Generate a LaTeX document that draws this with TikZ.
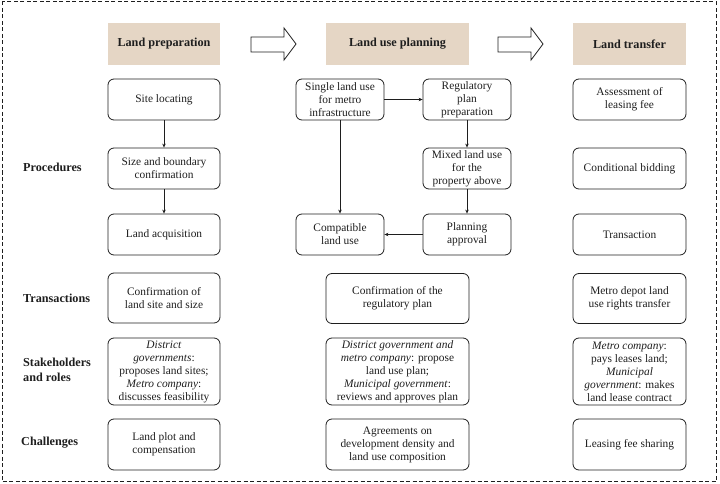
\documentclass[tikz,border=0pt]{standalone}
\usepackage{fontspec}
\setmainfont{Liberation Serif}
\usetikzlibrary{arrows.meta}
\definecolor{hdr}{HTML}{E5D6C5}
\definecolor{ink}{HTML}{1E1E1E}
\begin{document}
\begin{tikzpicture}[x=1pt,y=-1pt,
  every node/.style={font=\fontsize{11.4}{13}\selectfont, text=ink},
  box/.style={draw=ink, line width=0.8pt, rounded corners=6pt, align=center, inner sep=0pt},
  hbox/.style={fill=hdr, align=center, inner sep=0pt, font=\fontsize{12.2}{14}\selectfont\bfseries},
  lbl/.style={anchor=west, align=left, inner sep=0pt, font=\fontsize{12.2}{14.5}\selectfont\bfseries},
  arr/.style={draw=ink, line width=0.7pt, -{Stealth[length=4pt,width=3.5pt]}},
  blk/.style={draw=ink, line width=0.8pt, fill=white, line join=miter}]
\useasboundingbox (0,0) rectangle (720,484);
\draw[ink, line width=0.8pt, dash pattern=on 4pt off 2.5pt] (2,1.5) rectangle (716,481.5);

% headers
\node[hbox, minimum width=112pt, minimum height=42pt] (h1) at (164,44) {Land preparation};
\node[hbox, minimum width=143pt, minimum height=42pt] (h2) at (397.5,44) {Land use planning};
\node[hbox, minimum width=113pt, minimum height=42pt] (h3) at (629.5,44) {Land transfer};

% block arrows
\draw[blk] (251,37) -- (284,37) -- (284,28) -- (296,44) -- (284,60) -- (284,52) -- (251,52) -- cycle;
\draw[blk] (498,37) -- (531,37) -- (531,28) -- (543,44) -- (531,60) -- (531,52) -- (498,52) -- cycle;

% row labels
\node[lbl] (lp) at (23,167) {Procedures};
\node[lbl] (lt) at (23,298) {Transactions};
\node[lbl] (ls) at (23,370) {Stakeholders\\and roles};
\node[lbl] (lc) at (21,443) {Challenges};

% procedures - left
\node[box, minimum width=112pt, minimum height=41pt] (p1) at (164,99.5) {Site locating};
\node[box, minimum width=112pt, minimum height=41pt] (p2) at (164,168.5) {Size and boundary\\confirmation};
\node[box, minimum width=112pt, minimum height=41pt] (p3) at (164,234.5) {Land acquisition};

% procedures - middle
\node[box, minimum width=88pt, minimum height=41pt] (m1) at (340,99.5) {Single land use\\for metro\\infrastructure};
\node[box, minimum width=88pt, minimum height=41pt] (m2) at (467,99.5) {Regulatory\\plan\\preparation};
\node[box, minimum width=88pt, minimum height=41pt] (m3) at (467,168.5) {Mixed land use\\for the\\property above};
\node[box, minimum width=88pt, minimum height=41pt] (m4) at (467,234.5) {Planning\\approval};
\node[box, minimum width=88pt, minimum height=41pt] (m5) at (340,234.5) {Compatible\\land use};

% procedures - right
\node[box, minimum width=113pt, minimum height=41pt] (r1) at (629.5,99.5) {Assessment of\\leasing fee};
\node[box, minimum width=113pt, minimum height=41pt] (r2) at (629.5,168.5) {Conditional bidding};
\node[box, minimum width=113pt, minimum height=41pt] (r3) at (629.5,234.5) {Transaction};

% transactions
\node[box, minimum width=112pt, minimum height=50pt] (t1) at (164,298) {Confirmation of\\land site and size};
\node[box, minimum width=143pt, minimum height=50pt] (t2) at (397.5,298.5) {Confirmation of the\\regulatory plan};
\node[box, minimum width=113pt, minimum height=50pt] (t3) at (629.5,298.5) {Metro depot land\\use rights transfer};

% stakeholders
\node[box, minimum width=112pt, minimum height=67pt] (s1) at (164,371.5) {\textit{District}\\\textit{governments}:\\proposes land sites;\\\textit{Metro company}:\\discusses feasibility};
\node[box, minimum width=143pt, minimum height=67pt] (s2) at (397.5,371.5) {\textit{District government and}\\\textit{metro company}: propose\\land use plan;\\\textit{Municipal government}:\\reviews and approves plan};
\node[box, minimum width=113pt, minimum height=67pt] (s3) at (629.5,371.5) {\textit{Metro company}:\\pays leases land;\\\textit{Municipal}\\\textit{government}: makes\\land lease contract};

% challenges
\node[box, minimum width=112pt, minimum height=51pt] (c1) at (164,444.5) {Land plot and\\compensation};
\node[box, minimum width=143pt, minimum height=51pt] (c2) at (397.5,444.5) {Agreements on\\development density and\\land use composition};
\node[box, minimum width=113pt, minimum height=51pt] (c3) at (629.5,444.5) {Leasing fee sharing};

% connectors
\draw[arr] (p1) -- (p2);
\draw[arr] (p2) -- (p3);
\draw[arr] (m1) -- (m2);
\draw[arr] (m2) -- (m3);
\draw[arr] (m3) -- (m4);
\draw[arr] (m4) -- (m5);
\draw[arr] (m1) -- (m5);
\end{tikzpicture}
\end{document}
